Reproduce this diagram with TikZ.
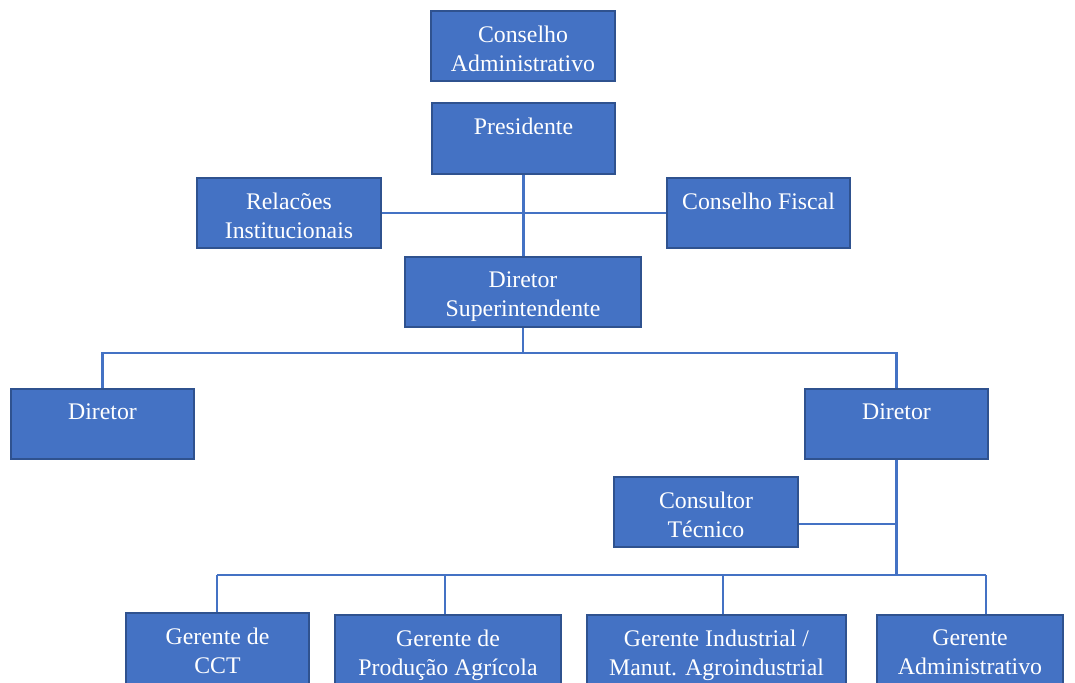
\documentclass[tikz,border=0pt]{standalone}
\usepackage{fontspec}
\setmainfont{Liberation Serif}
\definecolor{boxfill}{HTML}{4472C4}
\definecolor{boxline}{HTML}{2F528F}
\definecolor{conncol}{HTML}{4472C4}
\begin{document}
\begin{tikzpicture}[x=1pt,y=-1pt,
  box/.style={draw=boxline, fill=boxfill, line width=2pt, rectangle, anchor=north west, inner sep=0pt},
  txt/.style={anchor=north, yshift=-15.5pt, inner sep=0pt, align=center, text=white, font=\fontsize{23.8}{29.5}\selectfont},
  conn/.style={draw=conncol, line width=2.4pt}]
\useasboundingbox (0,0) rectangle (1075,682);
% boxes
\node[box, minimum width=184pt, minimum height=70pt] (ca) at (430,10) {};
\node[box, minimum width=183pt, minimum height=71pt] (pres) at (431,102) {};
\node[box, minimum width=184pt, minimum height=70pt] (ri) at (196,177) {};
\node[box, minimum width=183pt, minimum height=70pt] (cf) at (666,177) {};
\node[box, minimum width=236pt, minimum height=70pt] (ds) at (404,256) {};
\node[box, minimum width=183pt, minimum height=70pt] (dl) at (10,388) {};
\node[box, minimum width=183pt, minimum height=70pt] (dr) at (804,388) {};
\node[box, minimum width=184pt, minimum height=70pt] (ct) at (613,476) {};
\node[box, minimum width=183pt, minimum height=90pt] (g1) at (125,612) {};
\node[box, minimum width=226pt, minimum height=90pt] (g2) at (334,614) {};
\node[box, minimum width=259pt, minimum height=90pt] (g3) at (586,614) {};
\node[box, minimum width=186pt, minimum height=90pt] (g4) at (876,614) {};
% texts
\node[txt] (ca-t) at (ca.north) {Conselho\\Administrativo};
\node[txt] (pres-t) at (pres.north) {Presidente};
\node[txt] (ri-t) at (ri.north) {Relacões\\Institucionais};
\node[txt] (cf-t) at (cf.north) {Conselho Fiscal};
\node[txt] (ds-t) at (ds.north) {Diretor\\Superintendente};
\node[txt] (dl-t) at (dl.north) {Diretor};
\node[txt] (dr-t) at (dr.north) {Diretor};
\node[txt] (ct-t) at (ct.north) {Consultor\\Técnico};
\node[txt] (g1-t) at (g1.north) {Gerente de\\CCT};
\node[txt] (g2-t) at (g2.north) {Gerente de\\Produção Agrícola};
\node[txt] (g3-t) at (g3.north) {Gerente Industrial /\\Manut. Agroindustrial};
\node[txt] (g4-t) at (g4.north) {Gerente\\Administrativo};
% junctions
\coordinate (j1) at (522,353);
\coordinate (j2) at (895,575);
\coordinate (d1) at (217,575);
\coordinate (d2) at (445,575);
\coordinate (d3) at (723,575);
\coordinate (d4) at (986,575);
% connectors
\draw[conn] (ri.east) -- (cf.west);
\draw[conn] (pres.south) -- (pres.south |- ds.north);
\draw[conn] (ds.south) -- (ds.south |- j1);
\draw[conn] (dl.north) |- (j1) -| (dr.north);
\draw[conn] (dr.south) -- (dr.south |- j2);
\draw[conn] ([yshift=-12pt]ct.east) -- ([yshift=-12pt]ct.east -| dr.south);
\draw[conn] (d1) -- (d4);
\draw[conn] (d1) -- (d1 |- g1.north);
\draw[conn] (d2) -- (d2 |- g2.north);
\draw[conn] (d3) -- (d3 |- g3.north);
\draw[conn] (d4) -- (d4 |- g4.north);
\end{tikzpicture}
\end{document}
